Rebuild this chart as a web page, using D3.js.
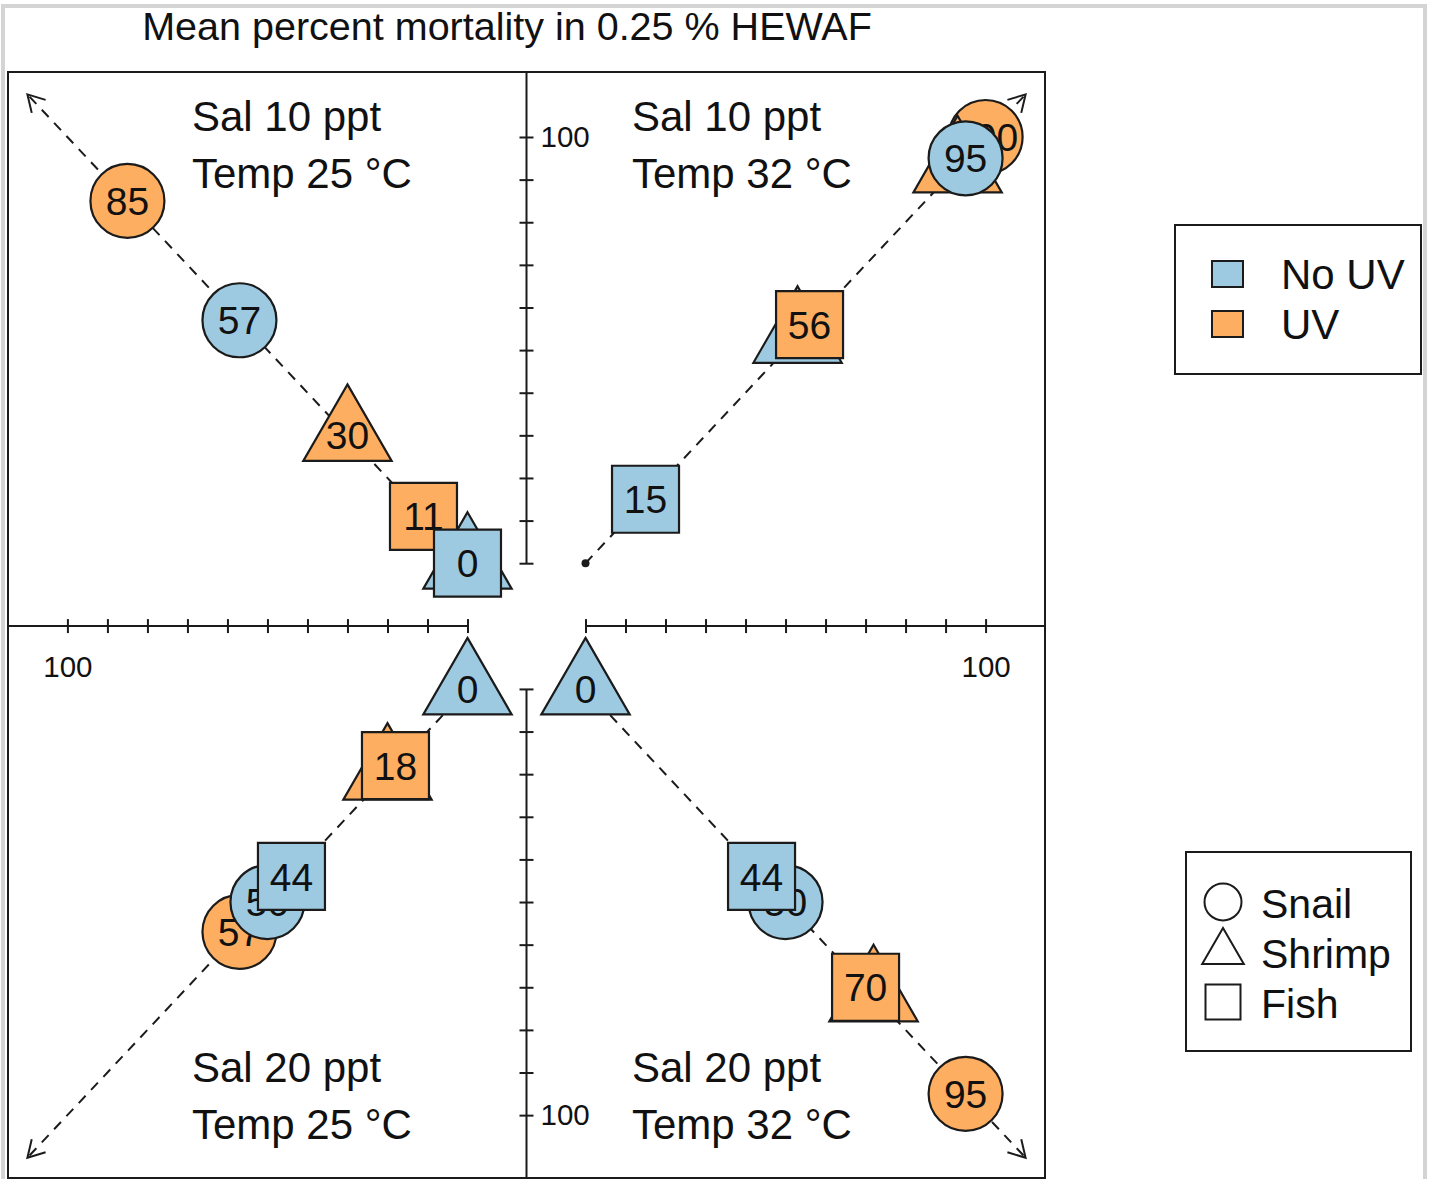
<!DOCTYPE html>
<html>
<head>
<meta charset="utf-8">
<script src="https://cdn.jsdelivr.net/npm/d3@7"></script>
<style>
  body { margin: 0; background: #fff; }
  svg { font-family: "Liberation Sans", Arial, Helvetica, sans-serif; }
</style>
</head>
<body>
<div id="target"></div>
<script>
let width = 1433,
  height = 1179;

let title = "Mean percent mortality in 0.25 % HEWAF";
let salinity = ["Sal 10 ppt", "Sal 10 ppt", "Sal 20 ppt", "Sal 20 ppt"];
let temperature = ["Temp 25 °C", "Temp 32 °C", "Temp 25 °C", "Temp 32 °C"];
let species = ["Snail", "Shrimp", "Fish"];
let treatments = ["No UV", "UV"];

// mean % mortality in each panel, species order: Snail, Shrimp, Fish
let noUV = [[57, 0, 0], [95, 53, 15], [50, 0, 44], [50, 0, 44]];
let withUV = [[85, 30, 11], [100, 93, 56], [57, 20, 18], [95, 72, 70]];

// which point goes on top of which, per panel
let drawOrder = [
  ["UV:Snail", "No UV:Snail", "UV:Shrimp", "UV:Fish", "No UV:Shrimp", "No UV:Fish"],
  ["UV:Snail", "UV:Shrimp", "No UV:Snail", "No UV:Shrimp", "UV:Fish", "No UV:Fish"],
  ["UV:Snail", "No UV:Snail", "No UV:Fish", "No UV:Shrimp", "UV:Shrimp", "UV:Fish"],
  ["No UV:Shrimp", "No UV:Snail", "No UV:Fish", "UV:Shrimp", "UV:Fish", "UV:Snail"]
];

let tickValues = d3.range(0, 101, 10);

// panel directions: top-left, top-right, bottom-left, bottom-right
let dirX = [-1, 1, -1, 1],
  dirY = [1, 1, -1, -1];
let gap = 14.75,
  arrowLen = 110;

let color = d3.scaleOrdinal()
  .domain(treatments)
  .range(["#9ecae1", "#fdae61"]);

let shape = d3.scaleOrdinal()
  .domain(species)
  .range([d3.symbolCircle, d3.symbolTriangle, d3.symbolSquare]);

let size = d3.scaleOrdinal()
  .domain(species)
  .range([Math.PI * 37 * 37, 3380, 67 * 67]);

let x = d3.scaleLinear().domain([-129.6, 129.6]).range([8, 1045]);
let y = d3.scaleLinear().domain([-129.5, 130]).range([1178, 72]);

let svg = d3.select("#target").append("svg")
  .attr("width", width)
  .attr("height", height);

// outer frame
svg.append("rect")
  .attr("x", 3).attr("y", 6)
  .attr("width", 1422).attr("height", 1185)
  .attr("fill", "none")
  .attr("stroke", "#d4d4d4")
  .attr("stroke-width", 4);

svg.append("text")
  .attr("x", 507)
  .attr("y", 40)
  .attr("text-anchor", "middle")
  .style("font-size", "39.5px")
  .style("fill", "#111")
  .text(title);

let ink = "#1b1b1b";

// cross lines through the middle
svg.append("line")
  .attr("x1", x(0)).attr("x2", x(0))
  .attr("y1", y.range()[1]).attr("y2", y(gap))
  .attr("stroke", ink).attr("stroke-width", 2);
svg.append("line")
  .attr("x1", x(0)).attr("x2", x(0))
  .attr("y1", y(-gap)).attr("y2", y.range()[0])
  .attr("stroke", ink).attr("stroke-width", 2);
svg.append("line")
  .attr("x1", x.range()[0]).attr("x2", x(-gap))
  .attr("y1", y(0)).attr("y2", y(0))
  .attr("stroke", ink).attr("stroke-width", 2);
svg.append("line")
  .attr("x1", x(gap)).attr("x2", x.range()[1])
  .attr("y1", y(0)).attr("y2", y(0))
  .attr("stroke", ink).attr("stroke-width", 2);

function styleAxis(g, vertical) {
  g.select(".domain").remove();
  g.selectAll(".tick line")
    .attr("stroke", ink)
    .attr("stroke-width", 2)
    .attr(vertical ? "x1" : "y1", -7);
  g.selectAll(".tick text")
    .style("font-size", "29.5px")
    .style("font-family", "Liberation Sans, Arial, sans-serif")
    .attr("fill", "#111");
}

let fmt = (d) => d === 100 ? "100" : "";

// vertical axes (top and bottom half)
[1, -1].forEach((s) => {
  let sc = d3.scaleLinear().domain([0, 100]).range([y(s * gap), y(s * (gap + 100))]);
  svg.append("g")
    .attr("transform", "translate(" + x(0) + ",0)")
    .call(d3.axisRight(sc).tickValues(tickValues).tickFormat(fmt).tickSize(7).tickPadding(7))
    .call((g) => styleAxis(g, true));
});

// horizontal axes (left and right half)
[-1, 1].forEach((s) => {
  let sc = d3.scaleLinear().domain([0, 100]).range([x(s * gap), x(s * (gap + 100))]);
  svg.append("g")
    .attr("transform", "translate(0," + y(0) + ")")
    .call(d3.axisBottom(sc).tickValues(tickValues).tickFormat(fmt).tickSize(7).tickPadding(23))
    .call((g) => styleAxis(g, false));
});

// plot box
svg.append("rect")
  .attr("x", x.range()[0]).attr("y", y.range()[1])
  .attr("width", x.range()[1] - x.range()[0])
  .attr("height", y.range()[0] - y.range()[1])
  .attr("fill", "none")
  .attr("stroke", ink)
  .attr("stroke-width", 2);

// panel labels
let labelX = [192, 632, 192, 632],
  labelY = [131, 131, 1082, 1082];
salinity.forEach((s, i) => {
  let t = svg.append("text")
    .attr("x", labelX[i])
    .attr("y", labelY[i])
    .style("font-size", "42px")
    .style("fill", "#111");
  t.append("tspan").attr("x", labelX[i]).text(s);
  t.append("tspan").attr("x", labelX[i]).attr("dy", 57).text(temperature[i]);
});

let pos = (p, v) => [x(dirX[p] * (gap + v)), y(dirY[p] * (gap + v))];

// dashed guide arrows
d3.range(4).forEach((p) => {
  let o = pos(p, 0), t = pos(p, arrowLen);
  svg.append("line")
    .attr("x1", o[0]).attr("y1", o[1])
    .attr("x2", t[0]).attr("y2", t[1])
    .attr("stroke", ink)
    .attr("stroke-width", 2)
    .attr("stroke-dasharray", "10,8");
  let ang = Math.atan2(o[1] - t[1], o[0] - t[0]),
    len = 19, spread = Math.PI / 6;
  let a1 = [t[0] + len * Math.cos(ang - spread), t[1] + len * Math.sin(ang - spread)],
    a2 = [t[0] + len * Math.cos(ang + spread), t[1] + len * Math.sin(ang + spread)];
  svg.append("path")
    .attr("d", d3.line()([a1, t, a2]))
    .attr("fill", "none")
    .attr("stroke", ink)
    .attr("stroke-width", 2);
  svg.append("circle")
    .attr("cx", o[0]).attr("cy", o[1])
    .attr("r", 4)
    .attr("fill", ink);
});

// points
let points = [];
drawOrder.forEach((order, p) => {
  order.forEach((key) => {
    let parts = key.split(":"),
      tr = parts[0], sp = parts[1],
      k = species.indexOf(sp),
      v = tr === "UV" ? withUV[p][k] : noUV[p][k];
    let xy = pos(p, v);
    points.push({ panel: p, treatment: tr, species: sp, value: v, x: xy[0], y: xy[1] });
  });
});

let g = svg.selectAll(".pt")
  .data(points)
  .enter()
  .append("g")
  .attr("class", "pt")
  .attr("transform", (d) => "translate(" + d.x + "," + d.y + ")");

g.append("path")
  .attr("d", (d) => d3.symbol().type(shape(d.species)).size(size(d.species))())
  .attr("fill", (d) => color(d.treatment))
  .attr("stroke", ink)
  .attr("stroke-width", 2.2);

g.append("text")
  .attr("text-anchor", "middle")
  .attr("dy", "0.36em")
  .style("font-size", "39px")
  .style("fill", "#111")
  .text((d) => d.value);

// legend: treatment
svg.append("rect")
  .attr("x", 1175).attr("y", 225)
  .attr("width", 246).attr("height", 149)
  .attr("fill", "#fff").attr("stroke", ink).attr("stroke-width", 2);
treatments.forEach((t, i) => {
  svg.append("rect")
    .attr("x", 1212).attr("y", 261 + i * 50)
    .attr("width", 31).attr("height", 26)
    .attr("fill", color(t))
    .attr("stroke", ink).attr("stroke-width", 2);
  svg.append("text")
    .attr("x", 1281).attr("y", 289 + i * 50)
    .style("font-size", "42px")
    .style("fill", "#111")
    .text(t);
});

// legend: species
svg.append("rect")
  .attr("x", 1186).attr("y", 852)
  .attr("width", 225).attr("height", 199)
  .attr("fill", "#fff").attr("stroke", ink).attr("stroke-width", 2);
let legendSize = d3.scaleOrdinal()
  .domain(species)
  .range([Math.PI * 18.5 * 18.5, 750, 35 * 35]);
species.forEach((s, i) => {
  svg.append("path")
    .attr("transform", "translate(1223," + (902 + i * 50) + ")")
    .attr("d", d3.symbol().type(shape(s)).size(legendSize(s))())
    .attr("fill", "none")
    .attr("stroke", ink)
    .attr("stroke-width", 2);
  svg.append("text")
    .attr("x", 1261).attr("y", 918 + i * 50)
    .style("font-size", "41px")
    .style("fill", "#111")
    .text(s);
});
</script>
</body>
</html>
